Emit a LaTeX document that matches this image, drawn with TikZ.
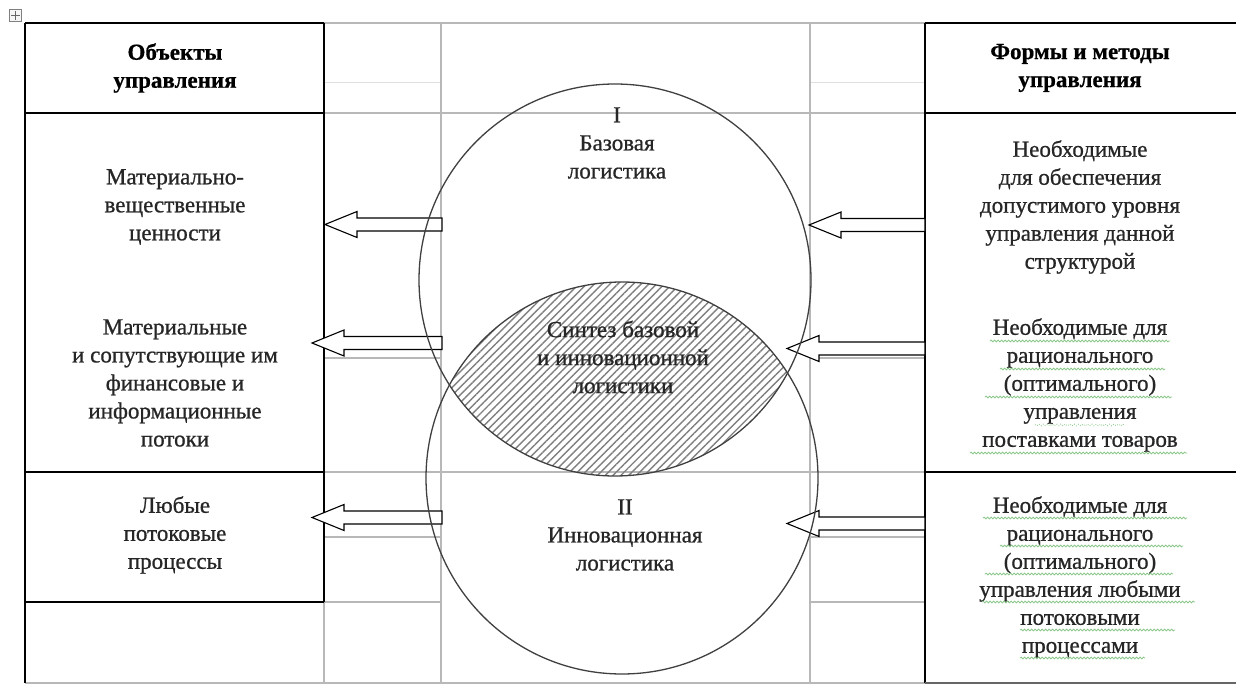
\documentclass[tikz,border=0pt]{standalone}
\usepackage{fontspec}
\setmainfont{Liberation Serif}[FakeBold=0.8]
\newfontfamily\hdrfont{Liberation Serif}[FakeBold=0.6]
\usetikzlibrary{patterns.meta,decorations.pathmorphing}
\definecolor{spell}{RGB}{140,200,140}
\newcommand{\blockarr}[3]{% tip x, tail x, centre y
  \draw[barrow] (#1,#3) -- ({#1+32},{#3-13}) -- ({#1+32},{#3-6.5}) -- (#2,{#3-6.5})
    -- (#2,{#3+6.5}) -- ({#1+32},{#3+6.5}) -- ({#1+32},{#3+13}) -- cycle;}
\begin{document}
\begin{tikzpicture}[x=1pt,y=-1pt,
  dark/.style={draw=black, line width=1.3pt},
  gridl/.style={draw=black!28, line width=1.1pt},
  faint/.style={draw=black!12, line width=1pt},
  lbl/.style={align=center, font=\fontsize{23}{28}\selectfont, inner sep=0pt, text=black!85},
  hdr/.style={align=center, font=\hdrfont\fontsize{23}{28}\selectfont\bfseries, inner sep=0pt},
  circ/.style={draw=black!75, line width=1.3pt},
  barrow/.style={draw=black, line width=1.1pt, fill=white, line join=miter},
  wavy/.style={draw=spell, line width=0.8pt, decorate, decoration={snake, amplitude=0.9pt, segment length=3.5pt}}]
\useasboundingbox (0,0) rectangle (1236,684);
\fill[white] (0,0) rectangle (1236,684);

% table move handle
\node[draw=black!50, fill=black!4, minimum size=12pt, inner sep=0pt] (handle) at (15.5,15.5) {};
\draw[black!60, line width=0.8pt] (11,15.5) -- (20,15.5) (15.5,11) -- (15.5,20);

% faint / grey grid lines
\draw[faint] (324,83) -- (441,83) (810,83) -- (925,83);
\draw[gridl] (324,23) -- (925,23) (324,113) -- (925,113) (324,472) -- (925,472);
\draw[gridl] (441,23) -- (441,683) (810,23) -- (810,683) (324,602) -- (324,683);
\draw[gridl] (324,358) -- (441,358) (810,358) -- (925,358);
\draw[gridl] (324,537) -- (441,537) (810,537) -- (925,537);
\draw[gridl] (324,602) -- (441,602) (810,602) -- (925,602);
\draw[gridl] (25,683) -- (925,683);

% dark table lines
\draw[dark] (25,23) -- (324,23) (25,113) -- (324,113) (25,472) -- (324,472) (25,602) -- (324,602);
\draw[dark] (25,23) -- (25,683) (324,23) -- (324,602);
\draw[dark] (925,23) -- (1236,23) (925,113) -- (1236,113) (925,472) -- (1236,472);
\draw[dark] (925,23) -- (925,683);
\draw[draw=black!60, line width=1.3pt] (925,683) -- (1236,683);

% block arrows
\blockarr{325}{442}{224.5}
\blockarr{312}{442}{343}
\blockarr{312}{442}{517.5}
\blockarr{809}{925}{225}
\blockarr{787}{925}{348.5}
\blockarr{787}{925}{523.5}

% hatched intersection
\begin{scope}
  \clip (615,280) circle[radius=196pt];
  \fill[pattern={Lines[angle=45,distance=5.5pt,line width=1.4pt]}, pattern color=black!50] (622,478) circle[radius=196pt];
\end{scope}

% circles
\node[circ, circle, minimum size=392pt, inner sep=0pt] (base) at (615,280) {};
\node[circ, circle, minimum size=392pt, inner sep=0pt] (innov) at (622,478) {};

% headers
\node[hdr] (hl) at (175,68) {Объекты\\управления};
\node[hdr] (hr) at (1080,68) {Формы и методы\\управления};

% left column
\node[lbl] (l1) at (175,207) {Материально-\\вещественные\\ценности};
\node[lbl] (l2) at (175,383) {Материальные\\и сопутствующие им\\финансовые и\\информационные\\потоки};
\node[lbl] (l3) at (175,535) {Любые\\потоковые\\процессы};

% middle
\node[lbl] (m1) at (617,143) {I\\Базовая\\логистика};
\node[lbl] (m2) at (623,357) {Синтез базовой\\и инновационной\\логистики};
\node[lbl] (m3) at (625,535) {II\\Инновационная\\логистика};

% right column
\node[lbl] (r1) at (1080,207) {Необходимые\\для обеспечения\\допустимого уровня\\управления данной\\структурой};
\node[lbl] (r2) at (1080,385) {Необходимые для\\рационального\\(оптимального)\\управления\\поставками товаров};
\node[lbl] (r3) at (1080,577) {Необходимые для\\рационального\\(оптимального)\\управления любыми\\потоковыми\\процессами};

% spell-check underlines
\draw[wavy] (990,341) -- (1170,341);
\draw[wavy] (1000,369) -- (1165,369);
\draw[wavy] (985,397) -- (1172,397);
\draw[wavy, dotted] (1035,425) -- (1125,425);
\draw[wavy] (970,453) -- (1187,453);
\draw[wavy] (983,518) -- (1187,518);
\draw[wavy] (1000,546) -- (1183,546);
\draw[wavy] (985,574) -- (1173,574);
\draw[wavy] (982,602) -- (1195,602);
\draw[wavy] (1020,630) -- (1175,630);
\draw[wavy] (1020,658) -- (1145,658);
\end{tikzpicture}
\end{document}
